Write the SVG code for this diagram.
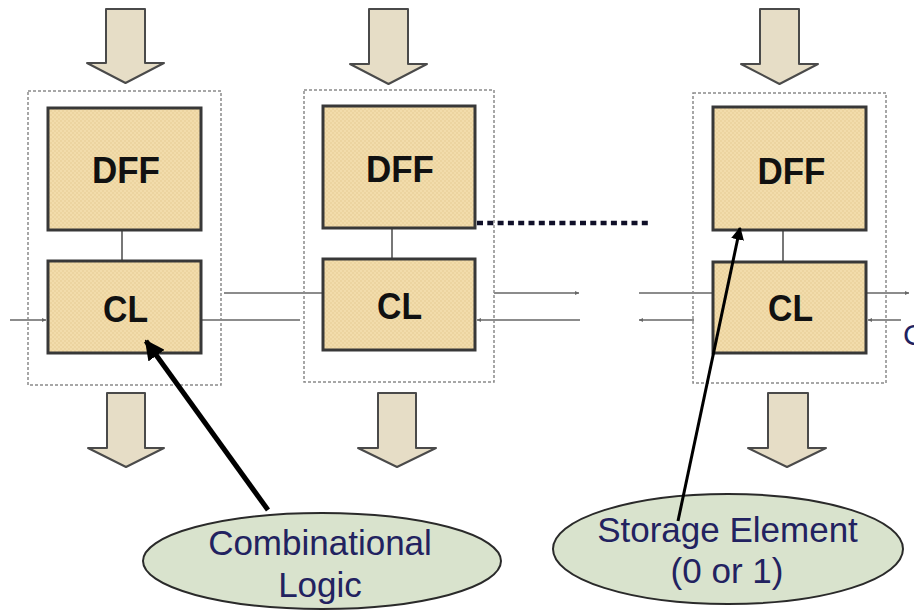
<svg xmlns="http://www.w3.org/2000/svg" width="914" height="611" viewBox="0 0 914 611">
  <style>
    .bigarrow { fill: #e6ddc6; stroke: #4a4a4a; stroke-width: 2; stroke-linejoin: round; }
    .group { fill: none; stroke: #8a8a8a; stroke-width: 1.5; stroke-dasharray: 3 2; }
    .box { fill: url(#hatch); stroke: #383838; stroke-width: 3; }
    .lbl { font-family: "Liberation Sans", Arial, sans-serif; font-weight: bold; font-size: 37px; fill: #111111; text-anchor: middle; }
    .wire { stroke: #666666; stroke-width: 1.6; fill: none; }
    .link { stroke: #777777; stroke-width: 2; fill: none; }
    .bubble { fill: #d9e3cd; stroke: #2a2a2a; stroke-width: 2; }
    .btxt { font-family: "Liberation Sans", Arial, sans-serif; font-size: 35px; fill: #222260; text-anchor: middle; }
    .ptr { stroke: #000000; fill: none; }
  </style>
  <defs>
    <pattern id="hatch" width="4" height="4" patternUnits="userSpaceOnUse">
      <rect width="4" height="4" fill="#f2dcab"/>
      <rect width="2" height="2" fill="#ecd4a0"/>
      <rect x="2" y="2" width="2" height="2" fill="#ecd4a0"/>
    </pattern>
    <marker id="tiny" viewBox="0 0 6 6" refX="6" refY="3" markerWidth="4" markerHeight="4" orient="auto-start-reverse" markerUnits="userSpaceOnUse">
      <path d="M0,0 L6,3 L0,6 z" fill="#666666"/>
    </marker>
    <marker id="head1" viewBox="0 0 10 10" refX="9" refY="5" markerWidth="20" markerHeight="20" orient="auto" markerUnits="userSpaceOnUse">
      <path d="M0,0 L10,5 L0,10 z" fill="#000000"/>
    </marker>
    <marker id="head2" viewBox="0 0 10 10" refX="9" refY="5" markerWidth="13" markerHeight="13" orient="auto" markerUnits="userSpaceOnUse">
      <path d="M0,0 L10,5 L0,10 z" fill="#000000"/>
    </marker>
  </defs>
  <rect width="914" height="611" fill="#ffffff"/>

  <!-- block arrows -->
  <g id="arrows-in">
    <path class="bigarrow" d="M106,9 H145 V63 H164 L125.5,83 L87,63 H106 Z"/>
    <path class="bigarrow" d="M369,9 H408 V64 H427 L388.5,84 L350,64 H369 Z"/>
    <path class="bigarrow" d="M760,9 H799 V64 H818 L779.5,84 L741,64 H760 Z"/>
  </g>
  <g id="arrows-out">
    <path class="bigarrow" d="M107,393 H145 V448 H164 L126,467 L88,448 H107 Z"/>
    <path class="bigarrow" d="M378,393 H416 V448 H436 L397,467 L358,448 H378 Z"/>
    <path class="bigarrow" d="M768,393 H808 V448 H826 L787,467 L748,448 H768 Z"/>
  </g>

  <!-- connectors -->
  <g id="connectors">
    <line class="link" x1="122" y1="230" x2="122" y2="261"/>
    <line class="link" x1="392" y1="228" x2="392" y2="259"/>
    <line class="link" x1="783" y1="230" x2="783" y2="262"/>
    <line class="wire" x1="10" y1="320" x2="46" y2="320" marker-end="url(#tiny)"/>
    <line class="wire" x1="224" y1="293" x2="323" y2="293"/>
    <line class="wire" x1="201" y1="320" x2="300" y2="320"/>
    <line class="wire" x1="494" y1="293" x2="579" y2="293" marker-end="url(#tiny)"/>
    <line class="wire" x1="580" y1="320" x2="477" y2="320" marker-end="url(#tiny)"/>
    <line class="wire" x1="639" y1="293" x2="713" y2="293"/>
    <line class="wire" x1="694" y1="320" x2="639" y2="320" marker-end="url(#tiny)"/>
    <line class="wire" x1="866" y1="293" x2="909" y2="293" marker-end="url(#tiny)"/>
    <line class="wire" x1="901" y1="320" x2="868" y2="320" marker-end="url(#tiny)"/>
    <line x1="477" y1="223" x2="650" y2="223" stroke="#101028" stroke-width="4.5" stroke-dasharray="6 4.3"/>
  </g>

  <!-- stage 1 -->
  <g id="stage1">
    <rect class="group" x="28" y="91" width="193" height="294"/>
    <g id="dff1">
      <rect class="box" x="48" y="108" width="153" height="122"/>
      <text class="lbl" x="126" y="183" textLength="68" lengthAdjust="spacingAndGlyphs">DFF</text>
    </g>
    <g id="cl1">
      <rect class="box" x="48" y="261" width="153" height="92"/>
      <text class="lbl" x="125.5" y="322" textLength="45" lengthAdjust="spacingAndGlyphs">CL</text>
    </g>
  </g>

  <!-- stage 2 -->
  <g id="stage2">
    <rect class="group" x="304" y="90" width="190" height="292"/>
    <g id="dff2">
      <rect class="box" x="323" y="106" width="152" height="122"/>
      <text class="lbl" x="400" y="182" textLength="68" lengthAdjust="spacingAndGlyphs">DFF</text>
    </g>
    <g id="cl2">
      <rect class="box" x="323" y="259" width="152" height="91"/>
      <text class="lbl" x="399.5" y="319" textLength="45" lengthAdjust="spacingAndGlyphs">CL</text>
    </g>
  </g>

  <!-- stage 3 -->
  <g id="stage3">
    <rect class="group" x="693" y="93" width="193" height="290"/>
    <g id="dff3">
      <rect class="box" x="713" y="107" width="153" height="123"/>
      <text class="lbl" x="791.5" y="184" textLength="68" lengthAdjust="spacingAndGlyphs">DFF</text>
    </g>
    <g id="cl3">
      <rect class="box" x="713" y="262" width="153" height="91"/>
      <text class="lbl" x="790.5" y="321" textLength="45" lengthAdjust="spacingAndGlyphs">CL</text>
    </g>
  </g>

  <!-- callouts -->
  <g id="callout-cl">
    <ellipse class="bubble" cx="322" cy="561" rx="179" ry="48"/>
    <text class="btxt" x="320" y="555">Combinational</text>
    <text class="btxt" x="320" y="597">Logic</text>
  </g>
  <g id="callout-dff">
    <ellipse class="bubble" cx="728" cy="549" rx="175" ry="55"/>
    <text class="btxt" x="727.5" y="542">Storage Element</text>
    <text class="btxt" x="727" y="583">(0 or 1)</text>
  </g>
  <g id="pointers">
    <line class="ptr" stroke-width="5" x1="268" y1="510" x2="146" y2="341" marker-end="url(#head1)"/>
    <line class="ptr" stroke-width="3" x1="678" y1="521" x2="740" y2="228" marker-end="url(#head2)"/>
  </g>

  <text x="903" y="345" font-family="Liberation Sans, Arial, sans-serif" font-size="30" fill="#222260">C</text>
</svg>
